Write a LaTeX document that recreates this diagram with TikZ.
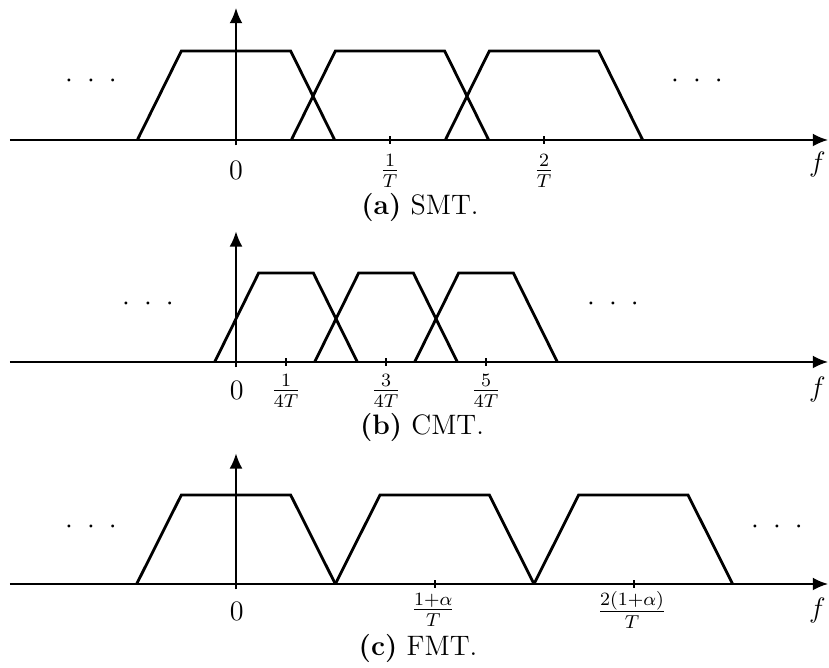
\documentclass[tikz,border=0pt]{standalone}
\usepackage{tikz}
\usetikzlibrary{arrows.meta}
\newcommand{\spreaddots}{$\cdot$\hspace{6pt}$\cdot$\hspace{6pt}$\cdot$}

\begin{document}
\begin{tikzpicture}[x=1cm,y=1cm,
  axisline/.style={line width=0.8pt,-{Latex[length=6.5pt,width=5.5pt]}},
  band/.style={line width=1.2pt,line join=miter},
  tickline/.style={line width=0.8pt},
  lbl/.style={font=\large,inner sep=0pt},
  capt/.style={font=\large,inner sep=0pt}]
\path[use as bounding box] (0,0) rectangle (12.435,10.02);
% (a) SMT
\draw[axisline] (0.15,7.92) -- (12.42,7.92);
\draw[axisline] (3.54,7.84) -- (3.54,9.90);
\draw[band] (2.06,7.92) -- (2.72,9.255) -- (4.36,9.255) -- (5.02,7.92);
\draw[band] (4.37,7.92) -- (5.03,9.255) -- (6.67,9.255) -- (7.33,7.92);
\draw[band] (6.68,7.92) -- (7.34,9.255) -- (8.98,9.255) -- (9.64,7.92);
\draw[tickline] (5.85,7.86) -- (5.85,7.98);
\draw[tickline] (8.16,7.86) -- (8.16,7.98);
\node[lbl] (zeroA) at (3.54,7.46) {$0$};
\node[lbl] (oneA) at (5.85,7.46) {$\frac{1}{T}$};
\node[lbl] (twoA) at (8.16,7.46) {$\frac{2}{T}$};
\node[lbl] (freqA) at (12.26,7.55) {$f$};
\node[lbl] (dotsLA) at (1.365,8.80) {\spreaddots};
\node[lbl] (dotsRA) at (10.455,8.80) {\spreaddots};
\node[capt] (captA) at (6.30,6.91) {\textbf{(a)} SMT.};
% (b) CMT
\draw[axisline] (0.15,4.59) -- (12.42,4.59);
\draw[axisline] (3.54,4.51) -- (3.54,6.55);
\draw[band] (3.22,4.59) -- (3.88,5.925) -- (4.70,5.925) -- (5.36,4.59);
\draw[band] (4.72,4.59) -- (5.38,5.925) -- (6.20,5.925) -- (6.86,4.59);
\draw[band] (6.22,4.59) -- (6.88,5.925) -- (7.70,5.925) -- (8.36,4.59);
\draw[tickline] (4.29,4.53) -- (4.29,4.65);
\draw[tickline] (5.79,4.53) -- (5.79,4.65);
\draw[tickline] (7.29,4.53) -- (7.29,4.65);
\node[lbl] (zeroB) at (3.55,4.16) {$0$};
\node[lbl] (oneB) at (4.29,4.16) {$\frac{1}{4T}$};
\node[lbl] (threeB) at (5.79,4.16) {$\frac{3}{4T}$};
\node[lbl] (fiveB) at (7.29,4.16) {$\frac{5}{4T}$};
\node[lbl] (freqB) at (12.26,4.18) {$f$};
\node[lbl] (dotsLB) at (2.22,5.46) {\spreaddots};
\node[lbl] (dotsRB) at (9.195,5.46) {\spreaddots};
\node[capt] (captB) at (6.33,3.61) {\textbf{(b)} CMT.};
% (c) FMT
\draw[axisline] (0.15,1.26) -- (12.42,1.26);
\draw[axisline] (3.54,1.18) -- (3.54,3.22);
\draw[band] (2.05,1.26) -- (2.72,2.595) -- (4.36,2.595) -- (5.03,1.26);
\draw[band] (5.03,1.26) -- (5.70,2.595) -- (7.34,2.595) -- (8.01,1.26);
\draw[band] (8.01,1.26) -- (8.68,2.595) -- (10.32,2.595) -- (10.99,1.26);
\draw[tickline] (6.52,1.20) -- (6.52,1.32);
\draw[tickline] (9.51,1.20) -- (9.51,1.32);
\node[lbl] (zeroC) at (3.55,0.85) {$0$};
\node[lbl] (oneC) at (6.50,0.87) {$\frac{1+\alpha}{T}$};
\node[lbl] (twoC) at (9.48,0.87) {$\frac{2(1+\alpha)}{T}$};
\node[lbl] (freqC) at (12.26,0.87) {$f$};
\node[lbl] (dotsLC) at (1.365,2.115) {\spreaddots};
\node[lbl] (dotsRC) at (11.655,2.115) {\spreaddots};
\node[capt] (captC) at (6.27,0.30) {\textbf{(c)} FMT.};
\end{tikzpicture}
\end{document}
